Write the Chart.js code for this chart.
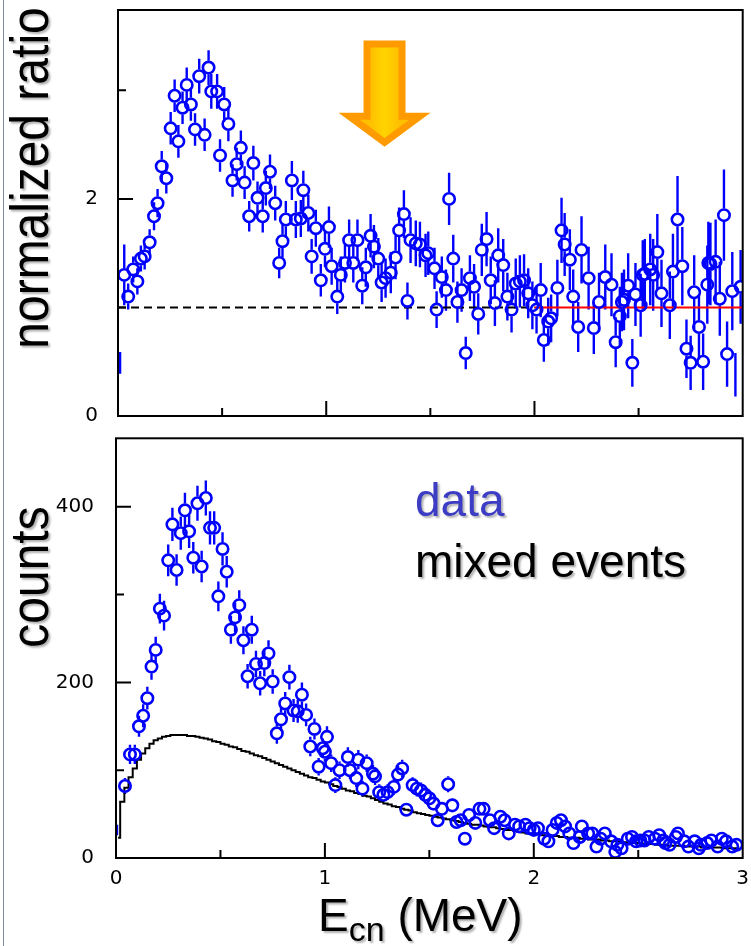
<!DOCTYPE html>
<html>
<head>
<meta charset="utf-8">
<script src="https://cdn.jsdelivr.net/npm/chart.js@4.4.1/dist/chart.umd.min.js"></script>
<style>
html,body{margin:0;padding:0;background:#fff;}
body{width:751px;height:946px;position:relative;overflow:hidden;font-family:"Liberation Sans",Arial,sans-serif;}
#c1{position:absolute;left:0;top:0;}
#c2{position:absolute;left:0;top:430px;}
.edge{position:absolute;left:3px;top:0;width:1px;height:946px;background:#7d8ea3;}
.t{position:absolute;white-space:nowrap;line-height:1;color:#000;}
.rot{font-size:48px;transform:translate(-50%,-50%) rotate(-90deg) scale(1,1.1);text-shadow:-2px 2px 2px rgba(0,0,0,0.3);}
.big{font-size:46px;text-shadow:2px 2px 2px rgba(0,0,0,0.3);}
</style>
</head>
<body>
<div class="edge"></div>
<canvas id="c1" width="751" height="430"></canvas>
<canvas id="c2" width="751" height="470"></canvas>
<div class="t rot" style="left:30px;top:178px;">normalized ratio</div>
<div class="t rot" style="left:30px;top:577px;">counts</div>
<div class="t big" style="left:415px;top:477px;color:#3c3cc4;">data</div>
<div class="t big" style="left:415px;top:538px;">mixed events</div>
<div class="t big" style="left:318px;top:892px;">E<span style="font-size:34px;position:relative;top:10px;">cn</span> (MeV)</div>
<script>
// ---------- top panel: normalized ratio ----------
const ratioE = [
0.010,0.030,0.049,0.073,0.093,0.110,0.128,0.152,0.173,0.190,
0.210,0.232,0.253,0.272,0.290,0.310,0.330,0.350,0.370,0.390,
0.416,0.435,0.448,0.476,0.490,0.510,0.530,0.550,0.570,0.590,
0.608,0.630,0.650,0.670,0.695,0.710,0.730,0.755,0.774,0.790,
0.806,0.835,0.854,0.878,0.890,0.914,0.930,0.950,0.974,0.994,
1.013,1.026,1.053,1.070,1.090,1.110,1.130,1.150,1.173,1.190,
1.213,1.229,1.250,1.266,1.285,1.310,1.333,1.350,1.373,1.390,
1.405,1.430,1.450,1.477,1.490,1.520,1.530,1.555,1.575,1.590,
1.610,1.630,1.650,1.670,1.690,1.710,1.730,1.747,1.770,1.790,
1.810,1.826,1.850,1.870,1.890,1.910,1.930,1.950,1.970,1.990,
2.010,2.030,2.045,2.066,2.080,2.110,2.130,2.145,2.170,2.186,
2.210,2.226,2.260,2.285,2.310,2.340,2.370,2.390,2.410,2.420,
2.430,2.450,2.470,2.485,2.510,2.520,2.530,2.556,2.590,2.610,
2.570,2.650,2.665,2.687,2.710,2.730,2.750,2.767,2.790,2.810,
2.830,2.845,2.870,2.835,2.890,2.910,2.925,2.950,2.965,2.990
];
const ratioValue = [
0.49,1.30,1.10,1.35,1.24,1.45,1.47,1.60,1.84,1.96,
2.30,2.19,2.65,2.95,2.53,2.84,3.05,2.87,2.64,3.13,
2.59,3.21,2.99,2.99,2.40,2.87,2.69,2.17,2.32,2.47,
2.15,1.84,2.33,2.01,1.84,2.10,2.25,1.96,1.41,1.61,
1.81,2.17,1.81,1.82,2.08,1.87,1.47,1.73,1.25,1.54,
1.74,1.38,1.10,1.30,1.41,1.62,1.41,1.62,1.20,1.37,
1.66,1.56,1.45,1.23,1.27,1.32,1.46,1.71,1.86,1.06,
1.62,1.59,1.58,1.48,1.50,1.36,0.98,1.28,1.16,2.00,
1.45,1.05,1.16,0.58,1.27,1.19,0.94,1.53,1.63,1.25,
1.04,1.48,1.39,1.10,0.98,1.22,1.24,1.25,1.13,1.02,
0.98,1.16,0.70,0.87,0.90,1.18,1.71,1.58,1.44,1.10,
0.82,1.53,1.27,0.81,1.05,1.28,1.21,0.68,0.92,1.05,
1.07,1.20,0.49,1.12,1.02,1.30,1.31,1.35,1.51,1.13,
1.30,1.02,1.33,1.81,1.38,0.62,0.49,1.14,0.82,0.50,
1.21,1.40,1.42,1.41,1.08,1.85,0.57,1.15,0.38,1.19
];
const ratioError = [
0.10,0.28,0.12,0.12,0.12,0.12,0.12,0.12,0.13,0.13,
0.14,0.14,0.15,0.15,0.15,0.15,0.16,0.15,0.15,0.16,
0.15,0.16,0.16,0.16,0.15,0.16,0.16,0.15,0.15,0.16,
0.15,0.14,0.16,0.15,0.15,0.16,0.16,0.16,0.14,0.15,
0.17,0.18,0.17,0.17,0.18,0.17,0.16,0.17,0.15,0.17,
0.19,0.17,0.16,0.17,0.18,0.19,0.18,0.19,0.17,0.18,
0.20,0.20,0.19,0.18,0.18,0.19,0.20,0.21,0.22,0.17,
0.21,0.21,0.21,0.20,0.20,0.19,0.17,0.19,0.19,0.24,
0.22,0.19,0.20,0.15,0.21,0.21,0.19,0.24,0.25,0.22,
0.21,0.25,0.24,0.22,0.21,0.23,0.24,0.24,0.23,0.22,
0.22,0.25,0.20,0.22,0.22,0.26,0.30,0.29,0.28,0.25,
0.23,0.31,0.29,0.24,0.27,0.30,0.29,0.23,0.27,0.27,
0.28,0.30,0.22,0.29,0.29,0.32,0.32,0.33,0.35,0.31,
0.33,0.31,0.35,0.40,0.36,0.27,0.25,0.34,0.30,0.26,
0.36,0.38,0.39,0.38,0.34,0.42,0.30,0.36,0.20,0.34
];
const ratioNoMarker = [0, 148];
const ratioYTicks = [0, 2];
const ratioYMinor = [1, 3];
const ratioRef = 1;
const fitStart = 2;
const arrowSpot = {x: 1.28, top: 3.46, tip: 2.48};

// ---------- bottom panel: counts ----------
const countsE = [
0.005,0.043,0.067,0.090,0.110,0.130,0.150,0.170,0.190,0.210,
0.230,0.250,0.270,0.290,0.310,0.330,0.350,0.370,0.390,0.410,
0.430,0.450,0.470,0.490,0.510,0.530,0.550,0.570,0.590,0.610,
0.630,0.650,0.670,0.690,0.710,0.730,0.750,0.770,0.790,0.810,
0.830,0.850,0.870,0.890,0.910,0.930,0.950,0.970,0.990,1.000,
1.010,1.030,1.050,1.070,1.110,1.120,1.150,1.160,1.180,1.200,
1.230,1.240,1.260,1.280,1.300,1.330,1.350,1.370,1.390,1.420,
1.440,1.460,1.480,1.500,1.520,1.540,1.560,1.590,1.610,1.630,
1.650,1.670,1.690,1.720,1.740,1.760,1.790,1.810,1.840,1.860,
1.880,1.910,1.930,1.960,1.980,2.000,2.020,2.050,2.070,2.090,
2.110,2.130,2.150,2.170,2.190,2.220,2.230,2.260,2.280,2.300,
2.320,2.340,2.370,2.390,2.400,2.420,2.450,2.470,2.490,2.510,
2.530,2.550,2.580,2.600,2.620,2.630,2.650,2.680,2.690,2.720,
2.740,2.770,2.790,2.800,2.830,2.850,2.880,2.900,2.920,2.950,
2.970
];
const countsValue = [
32,82,118,118,150,162,182,218,237,284,
276,339,380,328,370,396,372,342,404,332,
410,376,376,298,352,326,260,274,288,248,
207,260,221,199,222,233,201,142,158,176,
206,168,167,186,163,127,147,104,125,121,
138,108,83,100,115,100,91,112,79,108,
96,93,75,72,75,81,95,102,55,83,
79,77,72,68,62,43,56,84,60,41,
43,22,49,40,56,56,43,34,47,43,
28,38,36,38,34,32,34,22,19,32,
40,43,36,28,17,24,36,28,28,13,
22,28,19,7,15,11,22,24,19,20,
20,24,22,26,20,17,15,24,28,19,
13,19,11,15,17,20,13,22,19,13,
15
];
const countsError = [
6,9,11,11,12,13,13,15,15,17,
17,18,19,18,19,20,19,18,20,18,
20,19,19,17,19,18,16,17,17,16,
14,16,15,14,15,15,14,12,13,13,
14,13,13,14,13,11,12,10,11,11,
12,10,9,10,11,10,10,11,9,10,
10,10,9,8,9,9,10,10,7,9,
9,9,8,8,8,7,7,9,8,6,
7,5,7,6,7,7,7,6,7,7,
5,6,6,6,6,6,6,5,4,6,
6,7,6,5,4,5,6,5,5,4,
5,5,4,3,4,3,5,5,4,4,
4,5,5,5,4,4,4,5,5,4,
4,4,3,4,4,4,4,5,4,4,
4
];
const countsNoMarker = [0];
const countsYTicks = [0, 200, 400];
const countsYMinor = [100, 300];

// mixed-events histogram (bin centres, MeV)
const mixedE = [
0.01,0.03,0.05,0.07,0.09,0.11,0.13,0.15,0.17,0.19,
0.21,0.23,0.25,0.27,0.29,0.31,0.33,0.35,0.37,0.39,
0.41,0.43,0.45,0.47,0.49,0.51,0.53,0.55,0.57,0.59,
0.61,0.63,0.65,0.67,0.69,0.71,0.73,0.75,0.77,0.79,
0.81,0.83,0.85,0.87,0.89,0.91,0.93,0.95,0.97,0.99,
1.01,1.03,1.05,1.07,1.09,1.11,1.13,1.15,1.17,1.19,
1.21,1.23,1.25,1.27,1.29,1.31,1.33,1.35,1.37,1.39,
1.41,1.43,1.45,1.47,1.49,1.51,1.53,1.55,1.57,1.59,
1.61,1.63,1.65,1.67,1.69,1.71,1.73,1.75,1.77,1.79,
1.81,1.83,1.85,1.87,1.89,1.91,1.93,1.95,1.97,1.99,
2.01,2.03,2.05,2.07,2.09,2.11,2.13,2.15,2.17,2.19,
2.21,2.23,2.25,2.27,2.29,2.31,2.33,2.35,2.37,2.39,
2.41,2.43,2.45,2.47,2.49,2.51,2.53,2.55,2.57,2.59,
2.61,2.63,2.65,2.67,2.69,2.71,2.73,2.75,2.77,2.79,
2.81,2.83,2.85,2.87,2.89,2.91,2.93,2.95,2.97,2.99
];
const mixedCounts = [
23,64,80,92,102,112,119,125,130,134,
136,138,139,140,140,140,140,139,139,138,
137,136,135,133,132,130,129,127,126,124,
122,121,119,117,116,114,112,110,108,106,
104,102,100,98,96,94,92,91,89,87,
86,84,82,81,79,77,76,74,73,71,
70,68,66,64,62,61,59,58,56,55,
54,52,51,50,49,48,47,46,45,44,
43,42,41,40,39,38,38,37,36,35,
35,34,33,32,32,31,30,29,28,28,
27,27,26,26,25,25,24,24,23,23,
23,22,22,21,21,21,20,20,19,19,
19,18,18,17,17,17,16,16,16,15,
15,15,14,14,14,14,13,13,13,13,
12,12,12,12,12,11,11,11,11,10
];

const energyTicks = [0, 1, 2, 3];
const energyMajorInner = [1, 2];
const energyMinor = [0.5, 1.5, 2.5];

// ---------- plugins ----------
const BLUE = '#0000ff';

const errorBarsPlugin = {
  id: 'errorBars',
  beforeDatasetsDraw(chart) {
    const {ctx, chartArea: a} = chart;
    ctx.save();
    ctx.beginPath();
    ctx.rect(a.left, a.top, a.right - a.left, a.bottom - a.top);
    ctx.clip();
    chart.data.datasets.forEach((ds, i) => {
      if (!ds.errorValues) return;
      const meta = chart.getDatasetMeta(i);
      const xs = chart.scales[meta.xAxisID], ys = chart.scales[meta.yAxisID];
      ctx.strokeStyle = ds.pointBorderColor;
      ctx.lineWidth = 2.4;
      ctx.beginPath();
      ds.data.forEach((p, j) => {
        const e = ds.errorValues[j];
        const px = xs.getPixelForValue(p.x);
        const py = ys.getPixelForValue(p.y);
        const top = ys.getPixelForValue(p.y + e);
        const bot = ys.getPixelForValue(p.y - e);
        const el = meta.data[j];
        const r = el && el.options ? el.options.radius : 0;
        const gap = r > 0 ? r + 1 : 0;
        if (py - gap > top) { ctx.moveTo(px, top); ctx.lineTo(px, py - gap); }
        if (py + gap < bot) { ctx.moveTo(px, py + gap); ctx.lineTo(px, bot); }
      });
      ctx.stroke();
    });
    ctx.restore();
  }
};

const frameTicksPlugin = {
  id: 'frameTicks',
  afterDatasetsDraw(chart, args, o) {
    const {ctx, chartArea: a, scales: {x, y}} = chart;
    ctx.save();
    ctx.strokeStyle = '#000';
    ctx.lineWidth = 2;
    ctx.beginPath();
    o.xMajor.forEach(v => { const p = x.getPixelForValue(v); ctx.moveTo(p, a.bottom); ctx.lineTo(p, a.bottom - 15); });
    o.xMinor.forEach(v => { const p = x.getPixelForValue(v); ctx.moveTo(p, a.bottom); ctx.lineTo(p, a.bottom - 8); });
    o.yMajor.forEach(v => { const p = y.getPixelForValue(v); ctx.moveTo(a.left, p); ctx.lineTo(a.left + 15, p); });
    o.yMinor.forEach(v => { const p = y.getPixelForValue(v); ctx.moveTo(a.left, p); ctx.lineTo(a.left + 8, p); });
    ctx.stroke();
    ctx.strokeRect(a.left, a.top, a.right - a.left, a.bottom - a.top);
    ctx.restore();
  }
};

const arrowPlugin = {
  id: 'arrow',
  afterDraw(chart, args, o) {
    if (!o.spot) return;
    const {ctx, scales: {x, y}} = chart;
    const cx = x.getPixelForValue(o.spot.x);
    const top = y.getPixelForValue(o.spot.top);
    const tip = y.getPixelForValue(o.spot.tip);
    const sh = 21, hh = 46, headH = 34;
    const base = tip - headH;
    ctx.save();
    ctx.fillStyle = '#ff9a00';
    ctx.beginPath();
    ctx.moveTo(cx - sh, top); ctx.lineTo(cx + sh, top); ctx.lineTo(cx + sh, base);
    ctx.lineTo(cx + hh, base); ctx.lineTo(cx, tip); ctx.lineTo(cx - hh, base);
    ctx.lineTo(cx - sh, base); ctx.closePath(); ctx.fill();
    const b = 7, ish = sh - b, ihh = 24.7, itip = tip - 8.7, ibase = base + b;
    const g = ctx.createLinearGradient(cx - ish, 0, cx + ish, 0);
    g.addColorStop(0, '#ffc000'); g.addColorStop(0.5, '#ffd400'); g.addColorStop(1, '#ffc000');
    ctx.fillStyle = g;
    ctx.beginPath();
    ctx.moveTo(cx - ish, top + b); ctx.lineTo(cx + ish, top + b); ctx.lineTo(cx + ish, ibase);
    ctx.lineTo(cx + ihh, ibase); ctx.lineTo(cx, itip); ctx.lineTo(cx - ihh, ibase);
    ctx.lineTo(cx - ish, ibase); ctx.closePath(); ctx.fill();
    ctx.restore();
  }
};

Chart.register(errorBarsPlugin, frameTicksPlugin, arrowPlugin);

const tickFont = {family: '"DejaVu Sans", sans-serif', size: 20};

function pts(xs, ys) { return xs.map((v, i) => ({x: v, y: ys[i]})); }

function zeroPad(s) { s.paddingTop = 0; s.paddingBottom = 0; s.paddingLeft = 0; s.paddingRight = 0; }

function markerDataset(xs, ys, errs, hidden) {
  return {
    type: 'scatter',
    data: pts(xs, ys),
    errorValues: errs,
    pointStyle: 'circle',
    pointRadius: c => hidden.includes(c.dataIndex) ? 0 : 5.7,
    pointBackgroundColor: 'rgba(0,0,0,0)',
    pointBorderColor: BLUE,
    borderColor: BLUE,
    pointBorderWidth: 2.6,
    showLine: false,
    order: 0
  };
}

// top chart
new Chart(document.getElementById('c1'), {
  type: 'scatter',
  data: {
    datasets: [
      {
        type: 'line',
        data: [{x: 0, y: ratioRef}, {x: fitStart, y: ratioRef}],
        borderColor: '#000', borderWidth: 2, borderDash: [8, 5],
        pointRadius: 0, order: 2
      },
      {
        type: 'line',
        data: [{x: fitStart, y: ratioRef}, {x: 3, y: ratioRef}],
        borderColor: '#ff0000', borderWidth: 2,
        pointRadius: 0, order: 2
      },
      markerDataset(ratioE, ratioValue, ratioError, ratioNoMarker)
    ]
  },
  options: {
    responsive: false,
    animation: false,
    events: [],
    layout: {padding: {left: 0, right: 6, top: 10, bottom: 0}},
    plugins: {
      legend: {display: false},
      tooltip: {enabled: false},
      frameTicks: {xMajor: energyMajorInner, xMinor: energyMinor, yMajor: [2], yMinor: ratioYMinor},
      arrow: {spot: arrowSpot}
    },
    scales: {
      x: {
        type: 'linear', min: 0, max: 3,
        grid: {display: false, drawTicks: false},
        border: {display: false},
        ticks: {display: false},
        afterBuildTicks: s => { s.ticks = energyTicks.map(v => ({value: v})); },
        afterFit: s => { s.height = 14; zeroPad(s); }
      },
      y: {
        type: 'linear', min: 0, max: 3.74,
        grid: {display: false, drawTicks: false},
        border: {display: false},
        ticks: {font: tickFont, color: '#000', padding: 20},
        afterBuildTicks: s => { s.ticks = ratioYTicks.map(v => ({value: v})); },
        afterFit: s => { s.width = 118; zeroPad(s); }
      }
    }
  }
});

// bottom chart
new Chart(document.getElementById('c2'), {
  type: 'scatter',
  data: {
    datasets: [
      {
        type: 'line',
        data: pts(mixedE, mixedCounts),
        stepped: 'middle',
        borderColor: '#000', borderWidth: 2,
        pointRadius: 0, fill: false, order: 2
      },
      markerDataset(countsE, countsValue, countsError, countsNoMarker)
    ]
  },
  options: {
    responsive: false,
    animation: false,
    events: [],
    layout: {padding: {left: 0, right: 5, top: 8, bottom: 0}},
    plugins: {
      legend: {display: false},
      tooltip: {enabled: false},
      frameTicks: {xMajor: energyMajorInner, xMinor: energyMinor, yMajor: [200, 400], yMinor: countsYMinor}
    },
    scales: {
      x: {
        type: 'linear', min: 0, max: 3,
        grid: {display: false, drawTicks: false},
        border: {display: false},
        ticks: {font: tickFont, color: '#000', padding: 9, autoSkip: false, maxRotation: 0},
        afterBuildTicks: s => { s.ticks = energyTicks.map(v => ({value: v})); },
        afterFit: s => { s.height = 42; zeroPad(s); }
      },
      y: {
        type: 'linear', min: 0, max: 478,
        grid: {display: false, drawTicks: false},
        border: {display: false},
        ticks: {font: tickFont, color: '#000', padding: 22},
        afterBuildTicks: s => { s.ticks = countsYTicks.map(v => ({value: v})); },
        afterFit: s => { s.width = 116; zeroPad(s); }
      }
    }
  }
});
</script>
</body>
</html>
